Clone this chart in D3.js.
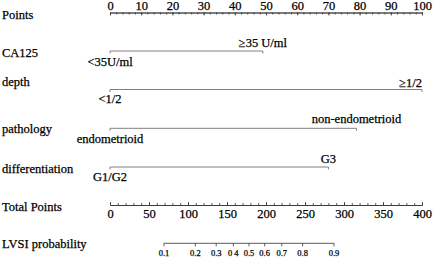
<!DOCTYPE html>
<html><head><meta charset="utf-8">
<script src="https://cdn.jsdelivr.net/npm/d3@7"></script>
<style>
html,body{margin:0;padding:0;background:#fff;}
</style></head>
<body><svg id="c" width="433" height="258"></svg>
<script>
// ---- data ----
const pointsTicks = [0,10,20,30,40,50,60,70,80,90,100];
const pointsMinor = d3.range(0,101,2);
const variables = ["CA125","depth","pathology","differentiation"];
const levelLow = ["<35U/ml","<1/2","endometrioid","G1/G2"];
const levelHigh = ["\u226535 U/ml","\u22651/2","non-endometrioid","G3"];
const levelLowPoints = [0,0,0,0];
const levelHighPoints = [49,100,79,70];
const totalTicks = [0,50,100,150,200,250,300,350,400];
const totalMinor = d3.range(0,401,10);
const probTicks = [0.1,0.2,0.3,0.4,0.5,0.6,0.7,0.8,0.9];
const probTickLabels = ["0.1","0.2","0.3","0 4","0.5","0.6","0.7","0.8","0.9"];
const lpSlope = 0.02016;      // linear predictor per total point
const lpCenter = 178.2;       // total points at probability 0.5

// ---- layout ----
const FONT = "'Liberation Serif','Times New Roman',Times,'DejaVu Serif',serif";
const svg = d3.select("#c");
const x0 = 110, x1 = 422;
const ptScale = d3.scaleLinear().domain([0,100]).range([x0,x1]);
const totScale = d3.scaleLinear().domain([0,400]).range([x0,x1]);
const logit = p => Math.log(p/(1-p));
const probX = p => totScale(lpCenter + logit(p)/lpSlope);
const fs = 12.5;

function styleText(sel, size){
  sel.attr("font-family",FONT).attr("font-size",size).attr("fill","#000")
     .attr("stroke","#000").attr("stroke-width",0.25)
     .style("font-family",FONT).style("font-size",size+"px");
  return sel;
}
function rowLabel(t, y){
  styleText(svg.append("text").attr("x",2).attr("y",y).text(t), fs);
}

// Points axis
rowLabel("Points",19);
const yP = 12.5;
const gP = svg.append("g").attr("transform",`translate(0,${yP})`);
gP.call(d3.axisTop(ptScale).tickValues(pointsMinor).tickSize(-2).tickSizeOuter(0).tickFormat(""));
gP.append("g").call(d3.axisTop(ptScale).tickValues(pointsTicks).tickSize(-3).tickSizeOuter(0).tickPadding(3));
gP.selectAll("path,line").attr("stroke","#333").attr("stroke-width",0.8);
styleText(gP.selectAll("text"), fs);

// Variables
const lineY = [51,89.5,128.3,167];
const highBase = [47,86.5,122.5,163];
const lowBase = [65.5,103,142.5,181];
const labelBase = [57,86,133,173];
variables.forEach((v,i)=>{
  rowLabel(v,labelBase[i]);
  const g = svg.append("g");
  const xa = ptScale(levelLowPoints[i]), xb = ptScale(levelHighPoints[i]);
  g.append("line").attr("x1",xa).attr("x2",xb).attr("y1",lineY[i]).attr("y2",lineY[i])
    .attr("stroke","#808080").attr("stroke-width",1);
  [xa,xb].forEach(x=>g.append("line").attr("x1",x).attr("x2",x).attr("y1",lineY[i]).attr("y2",lineY[i]+2.5)
    .attr("stroke","#808080").attr("stroke-width",1));
  styleText(g.append("text").attr("x",xa).attr("y",lowBase[i]).attr("text-anchor","middle").text(levelLow[i]), fs);
  const th = styleText(g.append("text").attr("x",xb).attr("y",highBase[i]).attr("text-anchor","middle").text(levelHigh[i]), fs);
  const w = th.node().getComputedTextLength();
  if (xb + w/2 > 428) th.attr("text-anchor","end");
});

// Total Points axis
rowLabel("Total Points",210.7);
const yT = 205;
const gT = svg.append("g").attr("transform",`translate(0,${yT})`);
gT.call(d3.axisBottom(totScale).tickValues(totalMinor).tickSize(-2).tickSizeOuter(0).tickFormat(""));
gT.append("g").call(d3.axisBottom(totScale).tickValues(totalTicks).tickSize(-3).tickSizeOuter(0).tickPadding(4));
gT.selectAll("path,line").attr("stroke","#333").attr("stroke-width",0.8);
styleText(gT.selectAll("text"), fs);

// LVSI probability axis
rowLabel("LVSI probability",248);
const yL = 243.3;
const gL = svg.append("g").attr("transform",`translate(0,${yL})`);
gL.append("line").attr("x1",probX(probTicks[0])).attr("x2",probX(probTicks[probTicks.length-1]))
  .attr("y1",0).attr("y2",0).attr("stroke","#333").attr("stroke-width",0.8);
probTicks.forEach((p,i)=>{
  const x = probX(p);
  gL.append("line").attr("x1",x).attr("x2",x).attr("y1",0).attr("y2",3).attr("stroke","#333").attr("stroke-width",0.8);
  styleText(gL.append("text").attr("x",x).attr("y",13.2).attr("text-anchor","middle").text(probTickLabels[i]), 8.5);
});
</script></body></html>
